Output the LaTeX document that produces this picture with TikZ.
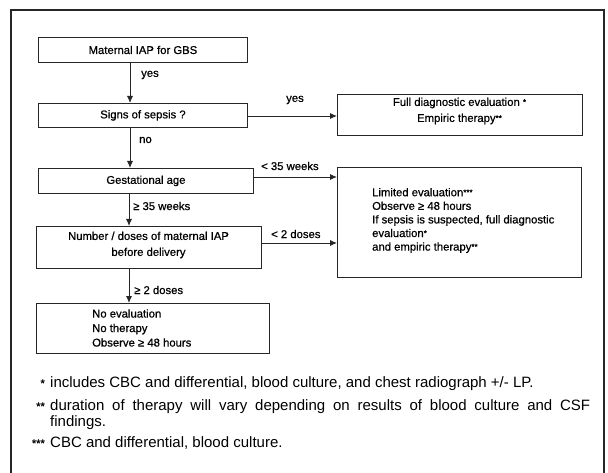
\documentclass[tikz,border=0pt]{standalone}
\usepackage{fontspec}
\setmainfont{Liberation Sans}
\newfontfamily\boxfont{Liberation Sans}[FakeBold=0.6]
\usetikzlibrary{arrows.meta}
\newcommand\fnmk[1]{\raisebox{1.2pt}{\fontsize{8}{8}\selectfont #1}}
\begin{document}
\begin{tikzpicture}[x=1pt,y={(0pt,-1pt)},
  box/.style={draw=black!85, line width=0.9pt, inner sep=0pt, anchor=north west,
              font=\boxfont\fontsize{11.3}{16}\selectfont, align=center},
  arr/.style={draw=black!85, line width=0.9pt, -{Latex[length=7pt,width=6pt]}},
  btext/.style={inner sep=0pt, font=\boxfont\fontsize{11.3}{14}\selectfont},
  lbl/.style={font=\boxfont\fontsize{11.3}{14}\selectfont, anchor=west, inner sep=0pt},
  fn/.style={font=\fontsize{15}{17}\selectfont, inner sep=0pt, anchor=base west},
  fnm/.style={font=\boxfont\fontsize{11}{11}\selectfont, inner sep=0pt, anchor=base east},
]
\useasboundingbox (0,0) rectangle (608,473);
\fill[white] (0,0) rectangle (608,473);
\draw[line width=1.3pt, black!85] (11,476) -- (11,10) -- (604,10) -- (604,476);

% left column boxes
\node[box, minimum width=209pt, minimum height=25pt] (b1) at (38,37) {Maternal IAP for GBS};
\node[box, minimum width=209pt, minimum height=24pt] (b2) at (38,103) {Signs of sepsis ?};
\node[box, minimum width=215pt, minimum height=25pt] (b3) at (38,168) {Gestational age};
\node[box, minimum width=225pt, minimum height=42pt] (b4) at (36,226) {};
\node[btext, align=center, font=\boxfont\fontsize{11.3}{16}\selectfont] (t4) at (148.5,245) {Number / doses of maternal IAP\\before delivery};
\node[box, minimum width=233pt, minimum height=50pt] (b5) at (36,303) {};
\node[btext, align=left, anchor=west, font=\boxfont\fontsize{11.3}{14.5}\selectfont] (t5) at (92,328) {No evaluation\\No therapy\\Observe ≥ 48 hours};

% right column boxes
\node[box, minimum width=245pt, minimum height=41pt] (bA) at (337,94) {};
\node[btext, align=center, font=\boxfont\fontsize{11.3}{16}\selectfont] (tA) at (459.5,111) {Full diagnostic evaluation \fnmk{*}\\Empiric therapy\fnmk{**}};
\node[box, minimum width=244pt, minimum height=110pt] (bB) at (337,167) {};
\node[btext, align=left, anchor=west, font=\boxfont\fontsize{11.3}{13.6}\selectfont] (tB) at (372,220.5) {Limited evaluation\fnmk{***}\\Observe ≥ 48 hours\\If sepsis is suspected, full diagnostic\\evaluation\fnmk{*}\\and empiric therapy\fnmk{**}};

% connectors
\draw[arr] (b1.south -| 130,0) -- (b2.north -| 130,0);
\draw[arr] (b2.south -| 130,0) -- (b3.north -| 130,0);
\draw[arr] (b3.south -| 129,0) -- (b4.north -| 129,0);
\draw[arr] (b4.south -| 129,0) -- (b5.north -| 129,0);
\draw[arr] (b2.east |- 0,116) -- (bA.west |- 0,116);
\draw[arr] (b3.east |- 0,177) -- (bB.west |- 0,177);
\draw[arr] (b4.east |- 0,243) -- (bB.west |- 0,243);

% labels
\node[lbl] (l1) at (141,75) {yes};
\node[lbl] (l2) at (139,140) {no};
\node[lbl] (l3) at (133,206) {≥ 35 weeks};
\node[lbl] (l4) at (134,290) {≥ 2 doses};
\node[lbl] (l5) at (286,100) {yes};
\node[lbl] (l6) at (261,166) {< 35 weeks};
\node[lbl] (l7) at (271,234) {< 2 doses};

% footnotes
\node[fnm] (m1) at (45,387) {*};
\node[fn] (f1) at (50,387) {includes CBC and differential, blood culture, and chest radiograph +/- LP.};
\node[fnm] (m2) at (45,410) {**};
\node[fn] (f2) at (50,410) {\hbox to 540pt{duration\hfill of\hfill therapy\hfill will\hfill vary\hfill depending\hfill on\hfill results\hfill of\hfill blood\hfill culture\hfill and\hfill CSF}};
\node[fn] (f3) at (50,426) {findings.};
\node[fnm] (m3) at (45,447) {***};
\node[fn] (f4) at (50,447) {CBC and differential, blood culture.};
\end{tikzpicture}
\end{document}
